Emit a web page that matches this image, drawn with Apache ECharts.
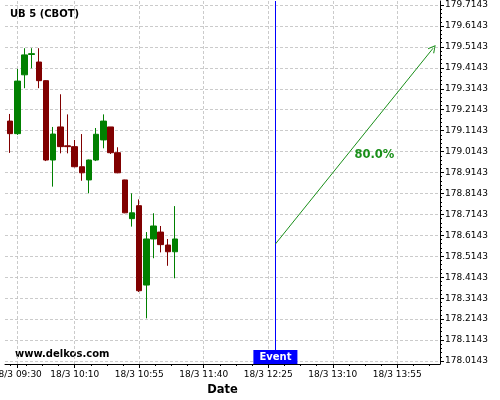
<!DOCTYPE html>
<html><head><meta charset="utf-8">
<script src="https://cdn.jsdelivr.net/npm/echarts@6/dist/echarts.min.js"></script>
<style>html,body{margin:0;padding:0;background:#fff}#c{width:500px;height:400px}</style>
</head><body><div id="c"></div>
<script>
const titleText = 'UB 5 (CBOT)';
const datePrefix = '18/3';
const times  = ['09:25','09:30','09:35','09:40','09:45','09:50','09:55','10:00','10:05','10:10','10:15','10:20','10:25','10:30','10:35','10:40','10:45','10:50','10:55','11:00','11:05','11:10','11:15','11:20'];
const opens  = [179.160,179.100,179.381,179.478,179.442,179.353,178.974,179.132,179.042,179.038,178.942,178.879,178.974,179.070,179.132,179.009,178.879,178.694,178.756,178.377,178.597,178.630,178.568,178.536];
const closes = [179.100,179.351,179.476,179.482,179.353,178.974,179.098,179.038,179.038,178.942,178.913,178.974,179.097,179.160,179.009,178.913,178.722,178.722,178.350,178.597,178.659,178.570,178.536,178.597];
const lows   = [179.008,179.094,179.317,179.412,179.317,178.969,178.847,179.006,179.006,178.939,178.875,178.815,178.969,179.030,179.003,178.911,178.720,178.656,178.344,178.218,178.505,178.533,178.469,178.409];
const highs  = [179.194,179.409,179.508,179.508,179.508,179.355,179.132,179.288,179.192,179.070,179.098,178.976,179.127,179.192,179.132,179.035,178.880,178.815,178.786,178.630,178.720,178.659,178.597,178.754];
const xTickLabels = ['09:30','10:10','10:55','11:40','12:25','13:10','13:55'];
const yTickLabels = [178.0143,178.1143,178.2143,178.3143,178.4143,178.5143,178.6143,178.7143,178.8143,178.9143,179.0143,179.1143,179.2143,179.3143,179.4143,179.5143,179.6143,179.7143];
const eventTime = '12:30';
const eventText = 'Event';
const arrowFrom = ['12:30', 178.573];
const arrowTo = ['14:20', 179.508];
const probText = '80.0%';
const probAt = ['13:39', 179.0];
const watermark = 'www.delkos.com';

const FF = 'DejaVu Sans';
const toMin = t => { const p = t.split(':'); return (+p[0])*60 + (+p[1]); };
const fmt = m => { const h = Math.floor(m/60), mm = Math.round(m - h*60); return String(h).padStart(2,'0') + ':' + String(mm).padStart(2,'0'); };

const xMin = 561.4, xMax = 864.8;
const yMin = 178.0, yMax = 179.7334;
const xMajor = xTickLabels.map(toMin);
const xMinor = [];
for (let k = -10; k <= 40; k++) { const v = toMin('10:10') + k*11.25; if (v > xMin && v < xMax && !xMajor.some(m => Math.abs(m - v) < 1)) xMinor.push(v); }
const yMinor = [];
for (let k = 0; k <= 85; k++) { if (k % 5) yMinor.push(+(yTickLabels[0] + k*0.02).toFixed(4)); }

const grid = 'rgba(190,190,190,0.8)';
const arrowPath = 'path://M5,0 L10,9 L9,10 L5,2.2 L1,10 L0,9 Z';

const chart = echarts.init(document.getElementById('c'));
chart.setOption({
  animation: false,
  backgroundColor: '#fff',
  title: { text: titleText, left: 5, top: 4, textStyle: { fontSize: 10, fontWeight: 'bold', color: '#000', fontFamily: FF } },
  graphic: [{ type: 'text', left: 15, top: 349, style: { text: watermark, font: 'bold 10px "DejaVu Sans"', fill: '#000' } }],
  grid: { left: 5, right: 60, top: 1, bottom: 36, outerBoundsMode: 'none' },
  xAxis: [{
    type: 'value', min: xMin, max: xMax,
    axisLine: { onZero: false, lineStyle: { color: '#000', width: 1 } },
    axisTick: { length: 4, customValues: xMajor, lineStyle: { color: '#000' } },
    axisLabel: { customValues: xMajor, formatter: v => datePrefix + ' ' + fmt(v), fontSize: 9, margin: 6, color: '#000', fontFamily: FF },
    splitLine: { show: true, lineStyle: { color: grid, type: [3, 2], width: 1 } },
    name: 'Date', nameLocation: 'middle', nameGap: 20,
    nameTextStyle: { fontWeight: 'bold', fontSize: 11.5, color: '#000', fontFamily: FF }
  }, {
    type: 'value', min: xMin, max: xMax, position: 'bottom',
    axisLine: { show: false },
    axisTick: { length: 2, customValues: xMinor, lineStyle: { color: '#000' } },
    axisLabel: { show: false }, splitLine: { show: false }
  }],
  yAxis: [{
    type: 'value', position: 'right', min: yMin, max: yMax,
    axisLine: { show: true, onZero: false, lineStyle: { color: '#000', width: 1 } },
    axisTick: { show: true, length: 4, customValues: yTickLabels, lineStyle: { color: '#000' } },
    axisLabel: { customValues: yTickLabels, formatter: v => v.toFixed(4), fontSize: 9, margin: 5, color: '#000', fontFamily: FF },
    splitLine: { show: true, lineStyle: { color: grid, type: [3, 2], width: 1 } }
  }, {
    type: 'value', position: 'right', min: yMin, max: yMax,
    axisLine: { show: false, onZero: false },
    axisTick: { show: true, length: 2, customValues: yMinor, lineStyle: { color: '#000' } },
    axisLabel: { show: false }, splitLine: { show: false }
  }],
  series: [{
    type: 'candlestick',
    xAxisIndex: 0, yAxisIndex: 0,
    barWidth: 6,
    encode: { x: 0, y: [1, 2, 3, 4] },
    data: times.map((t, i) => [toMin(t), opens[i], closes[i], lows[i], highs[i]]),
    itemStyle: { color: '#008000', color0: '#800000', borderColor: '#008000', borderColor0: '#800000', borderWidth: 1 },
    markLine: {
      silent: true, animation: false,
      label: { show: false },
      data: [
        [{ coord: [toMin(eventTime), yMin], symbol: 'none', lineStyle: { color: '#0000ff', width: 1, type: 'solid' } },
         { coord: [toMin(eventTime), yMax], symbol: 'none' }],
        [{ coord: [toMin(arrowFrom[0]), arrowFrom[1]], symbol: 'none', lineStyle: { color: '#1a8f1a', width: 1, type: 'solid' } },
         { coord: [toMin(arrowTo[0]), arrowTo[1]], symbol: arrowPath, symbolSize: [8, 8] }]
      ]
    },
    markPoint: {
      silent: true, animation: false,
      data: [
        { coord: [toMin(eventTime), yMin], symbol: 'rect', symbolSize: 0,
          label: { show: true, formatter: eventText, position: 'top', distance: 0, backgroundColor: '#0000ff', color: '#fff', fontWeight: 'bold', fontSize: 10, lineHeight: 12, padding: [1, 6, 1, 6], fontFamily: FF } },
        { coord: [toMin(probAt[0]), probAt[1]], symbol: 'rect', symbolSize: 0,
          label: { show: true, formatter: probText, position: 'inside', color: '#1a8f1a', fontWeight: 'bold', fontSize: 11.5, fontFamily: FF } }
      ]
    }
  }]
});
</script></body></html>
